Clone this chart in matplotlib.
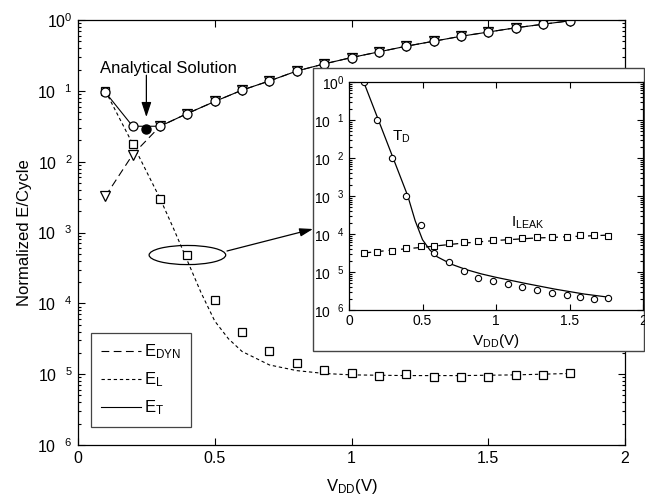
import matplotlib
matplotlib.use('Agg')
import matplotlib.pyplot as plt
from matplotlib.patches import Ellipse, Rectangle
from matplotlib.ticker import LogLocator, NullFormatter
import numpy as np

plt.rcParams['font.family'] = 'Liberation Sans'
plt.rcParams['mathtext.fontset'] = 'custom'
plt.rcParams['mathtext.rm'] = 'Liberation Sans'
plt.rcParams['mathtext.it'] = 'Liberation Sans:italic'
plt.rcParams['mathtext.bf'] = 'Liberation Sans:bold'

# ---- main chart data (log10 of normalized E/cycle) ----
vdd = [0.1, 0.2, 0.3, 0.4, 0.5, 0.6, 0.7, 0.8, 0.9, 1.0, 1.1, 1.2, 1.3, 1.4, 1.5, 1.6, 1.7, 1.8]
e_t_log = [-1.02, -1.5, -1.5, -1.32, -1.15, -0.99, -0.86, -0.72, -0.62, -0.53,
           -0.45, -0.37, -0.3, -0.23, -0.17, -0.11, -0.06, -0.01]
e_dyn_log = [-2.49, -1.9, -1.5, -1.32, -1.15, -0.99, -0.86, -0.72, -0.62, -0.53,
             -0.45, -0.37, -0.3, -0.23, -0.17, -0.11, -0.06, -0.01]
e_l_log = [-1.0, -1.75, -2.52, -3.32, -3.95, -4.4, -4.67, -4.84, -4.94, -4.99,
           -5.03, -5.0, -5.04, -5.04, -5.04, -5.01, -5.01, -4.98]
# fitted model curves
e_l_fit_x = [0.1, 0.2, 0.3, 0.35, 0.4, 0.45, 0.5, 0.55, 0.6, 0.7, 0.8, 0.9, 1.0, 1.2, 1.4, 1.6, 1.8]
e_l_fit_log = [-1.0, -1.75, -2.52, -2.95, -3.4, -3.85, -4.25, -4.5, -4.68, -4.87, -4.95, -4.99,
               -5.01, -5.02, -5.02, -5.01, -4.99]
opt_x = 0.25
opt_log = -1.54

# ---- inset data ----
in_x = [0.1, 0.19, 0.29, 0.39, 0.49, 0.58, 0.68, 0.78, 0.88, 0.98, 1.08, 1.18,
        1.28, 1.38, 1.48, 1.57, 1.67, 1.76]
td_log = [0.0, -1.0, -2.0, -3.0, -3.76, -4.5, -4.74, -4.97, -5.16, -5.24, -5.32, -5.4,
          -5.47, -5.55, -5.6, -5.66, -5.71, -5.69]
ileak_log = [-4.5, -4.47, -4.44, -4.37, -4.32, -4.32, -4.24, -4.22, -4.18, -4.16, -4.17,
             -4.1, -4.09, -4.07, -4.07, -4.02, -4.02, -4.05]
td_fit_x = [0.1, 0.2, 0.3, 0.4, 0.45, 0.5, 0.55, 0.6, 0.7, 0.8, 0.9, 1.0, 1.2, 1.4, 1.6, 1.76]
td_fit_log = [0.0, -1.0, -2.0, -3.0, -3.65, -4.15, -4.42, -4.6, -4.8, -4.94, -5.05, -5.14,
              -5.3, -5.45, -5.58, -5.66]
ileak_fit_x = [0.1, 0.3, 0.5, 0.75, 1.0, 1.25, 1.5, 1.76]
ileak_fit_log = [-4.5, -4.42, -4.35, -4.25, -4.17, -4.11, -4.07, -4.03]

ytick_labels = [r'$10^{\quad 6}$', r'$10^{\quad 5}$', r'$10^{\quad 4}$',
                r'$10^{\quad 3}$', r'$10^{\quad 2}$', r'$10^{\quad 1}$', r'$10^0$']


def p10(v):
    return 10 ** np.asarray(v, dtype=float)


def style_axes(a, fs):
    a.set_yscale('log')
    a.set_xlim(0, 2)
    a.set_ylim(1e-6, 1)
    a.set_xticks([0, 0.5, 1, 1.5, 2])
    a.set_xticklabels(['0', '0.5', '1', '1.5', '2'], fontsize=fs)
    a.set_yticks(p10([-6, -5, -4, -3, -2, -1, 0]))
    a.set_yticklabels(ytick_labels, fontsize=fs)
    a.yaxis.set_minor_locator(LogLocator(base=10, subs=np.arange(2, 10), numticks=20))
    a.yaxis.set_minor_formatter(NullFormatter())
    a.tick_params(which='both', direction='in', top=True, right=True, width=0.8)
    a.tick_params(which='major', length=5, pad=4)
    a.tick_params(which='minor', length=2.5)
    for s in a.spines.values():
        s.set_linewidth(0.9)


fig = plt.figure(figsize=(6.45, 4.96), dpi=100)
ax = fig.add_axes([78 / 645, 51 / 496, 547 / 645, 425 / 496])
ax.set_zorder(0)
style_axes(ax, 11.5)

# model lines
l_dyn, = ax.plot(vdd, p10(e_dyn_log), color='black', lw=0.8, dashes=(7, 4))
l_l, = ax.plot(e_l_fit_x, p10(e_l_fit_log), color='black', lw=0.8, dashes=(3, 2.5))
l_t, = ax.plot(vdd, p10(e_t_log), color='black', lw=0.8)

# markers
ax.plot(vdd, p10(e_dyn_log), ls='none', marker='v', ms=7.5, mfc='white', mec='black', mew=0.9)
ax.plot(vdd, p10(e_l_log), ls='none', marker='s', ms=6, mfc='white', mec='black', mew=0.9)
ax.plot(vdd, p10(e_t_log), ls='none', marker='o', ms=6.5, mfc='white', mec='black', mew=0.9)
ax.plot([opt_x], [10 ** opt_log], ls='none', marker='o', ms=6.5, mfc='black', mec='black')

ax.set_xlabel(r'$\mathrm{V_{DD}(V)}$', fontsize=12, labelpad=8)
ax.set_ylabel('Normalized E/Cycle', fontsize=12, labelpad=4)

leg = ax.legend([l_dyn, l_l, l_t],
                [r'$\mathrm{E_{DYN}}$', r'$\mathrm{E_L}$', r'$\mathrm{E_T}$'],
                loc='lower left', bbox_to_anchor=(0.024, 0.042), borderaxespad=0,
                fontsize=12, handlelength=2.4, handletextpad=0.15, labelspacing=0.55,
                fancybox=False, edgecolor='#444444', framealpha=1, borderpad=0.6)
leg.get_frame().set_linewidth(0.9)

# analytical solution annotation
ax.text(0.08, 10 ** -0.68, 'Analytical Solution', fontsize=12, ha='left', va='center')
ax.annotate('', xy=(opt_x, 10 ** -1.37), xytext=(opt_x, 10 ** -0.78),
            arrowprops=dict(arrowstyle='-|>,head_length=0.9,head_width=0.3',
                            color='black', lw=0.9, shrinkA=0, shrinkB=0))

# ellipse around the leakage point and zoom arrow
ax.add_patch(Ellipse((0.2, 0.447), 0.14, 0.045, transform=ax.transAxes,
                     facecolor='none', edgecolor='black', lw=0.9))
ax.annotate('', xy=(313, 496 - 229), xycoords='figure pixels',
            xytext=(227, 496 - 251), textcoords='figure pixels',
            arrowprops=dict(arrowstyle='-|>,head_length=0.8,head_width=0.25',
                            color='black', lw=0.9, shrinkA=0, shrinkB=0),
            annotation_clip=False)

# inset frame
fig.add_artist(Rectangle((313 / 645, 145 / 496), 331 / 645, 283 / 496,
                         transform=fig.transFigure, facecolor='white',
                         edgecolor='#444444', lw=1.0, zorder=1))

axi = fig.add_axes([349 / 645, 186 / 496, 294 / 645, 228 / 496])
axi.set_zorder(2)
style_axes(axi, 10)
axi.tick_params(which='major', length=4, pad=3)
axi.tick_params(which='minor', length=2)
axi.plot(td_fit_x, p10(td_fit_log), color='black', lw=0.9)
axi.plot(ileak_fit_x, p10(ileak_fit_log), color='black', lw=0.9, dashes=(6, 4))
axi.plot(in_x, p10(td_log), ls='none', marker='o', ms=4.5, mfc='white', mec='black', mew=0.8)
axi.plot(in_x, p10(ileak_log), ls='none', marker='s', ms=4.2, mfc='white', mec='black', mew=0.8)
axi.text(0.29, 10 ** -1.45, r'$\mathrm{T_D}$', fontsize=11, ha='left', va='center')
axi.text(1.1, 10 ** -3.7, r'$\mathrm{I_{LEAK}}$', fontsize=11, ha='left', va='center')
axi.set_xlabel(r'$\mathrm{V_{DD}(V)}$', fontsize=11, labelpad=3)

fig.savefig('out.png', dpi=100)
